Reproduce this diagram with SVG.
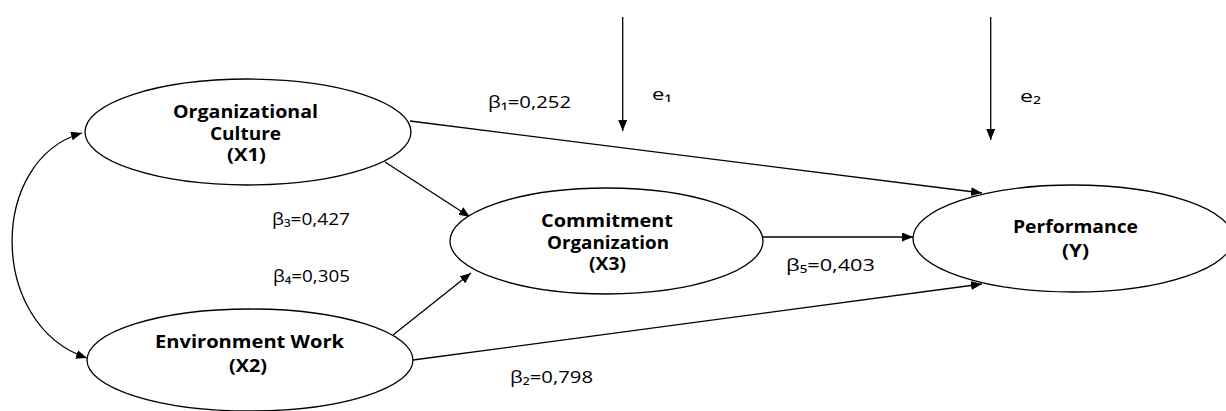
<svg xmlns="http://www.w3.org/2000/svg" width="1226" height="411" viewBox="0 0 1226 411">
<style>
.node ellipse{fill:#fff;stroke:#000;stroke-width:1.3}
.nt{font-family:"Open Sans","DejaVu Sans",sans-serif;font-weight:bold;font-size:17px;fill:#000}
.lb{font-family:"Open Sans","DejaVu Sans",sans-serif;font-size:16px;fill:#000}
.conn{stroke:#000;stroke-width:1.3;fill:none}
</style>
<defs>
<marker id="ah" markerUnits="userSpaceOnUse" markerWidth="12" markerHeight="10" refX="11" refY="4.5" orient="auto-start-reverse">
<path d="M0,0 L11,4.5 L0,9 z" fill="#000"/>
</marker>
</defs>
<rect width="1226" height="411" fill="#fff"/>
<g id="connectors">
<path class="conn" d="M82,133 C-12,160 -12,325 87,358" marker-start="url(#ah)" marker-end="url(#ah)"/>
<line class="conn" x1="410" y1="121" x2="982" y2="193" marker-end="url(#ah)"/>
<line class="conn" x1="385" y1="162" x2="470" y2="217" marker-end="url(#ah)"/>
<line class="conn" x1="393" y1="335" x2="471" y2="273" marker-end="url(#ah)"/>
<line class="conn" x1="413" y1="360" x2="982" y2="284" marker-end="url(#ah)"/>
<line class="conn" x1="763" y1="237" x2="913" y2="237" marker-end="url(#ah)"/>
<line class="conn" x1="622.7" y1="17" x2="622.7" y2="131" marker-end="url(#ah)"/>
<line class="conn" x1="990.7" y1="17" x2="990.7" y2="140" marker-end="url(#ah)"/>
</g>
<g id="X1" class="node">
<ellipse cx="248" cy="132" rx="163" ry="53"/>
<text class="nt" x="173" y="118" textLength="145" lengthAdjust="spacingAndGlyphs">Organizational</text>
<text class="nt" x="210" y="140" textLength="71" lengthAdjust="spacingAndGlyphs">Culture</text>
<text class="nt" x="227" y="161" textLength="39" lengthAdjust="spacingAndGlyphs">(X1)</text>
</g>
<g id="X2" class="node">
<ellipse cx="250" cy="360" rx="163" ry="51"/>
<text class="nt" x="155" y="348" textLength="189" lengthAdjust="spacingAndGlyphs">Environment Work</text>
<text class="nt" x="229" y="372" textLength="38" lengthAdjust="spacingAndGlyphs">(X2)</text>
</g>
<g id="X3" class="node">
<ellipse cx="606.5" cy="241" rx="156.5" ry="53"/>
<text class="nt" x="541" y="227" textLength="132" lengthAdjust="spacingAndGlyphs">Commitment</text>
<text class="nt" x="547" y="249" textLength="122" lengthAdjust="spacingAndGlyphs">Organization</text>
<text class="nt" x="589" y="270" textLength="37" lengthAdjust="spacingAndGlyphs">(X3)</text>
</g>
<g id="Y" class="node">
<ellipse cx="1073" cy="238.5" rx="160" ry="53.5"/>
<text class="nt" x="1013" y="233" textLength="125" lengthAdjust="spacingAndGlyphs">Performance</text>
<text class="nt" x="1062" y="257" textLength="27" lengthAdjust="spacingAndGlyphs">(Y)</text>
</g>
<g id="labels">
<text class="lb" x="488" y="108" textLength="83" lengthAdjust="spacingAndGlyphs">β₁=0,252</text>
<text class="lb" x="272" y="225" textLength="78" lengthAdjust="spacingAndGlyphs">β₃=0,427</text>
<text class="lb" x="273" y="282" textLength="77" lengthAdjust="spacingAndGlyphs">β₄=0,305</text>
<text class="lb" x="510" y="383" textLength="83" lengthAdjust="spacingAndGlyphs">β₂=0,798</text>
<text class="lb" x="786" y="271" textLength="89" lengthAdjust="spacingAndGlyphs">β₅=0,403</text>
<text class="lb" x="652" y="100" textLength="20" lengthAdjust="spacingAndGlyphs">e₁</text>
<text class="lb" x="1020" y="102" textLength="21" lengthAdjust="spacingAndGlyphs">e₂</text>
</g>
</svg>
